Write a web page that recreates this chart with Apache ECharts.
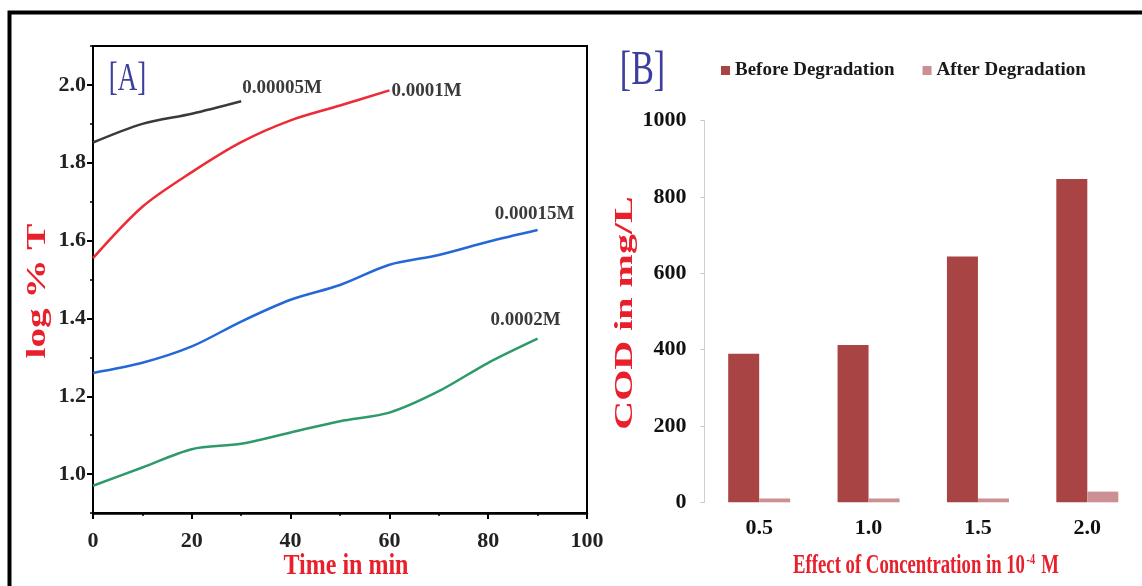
<!DOCTYPE html>
<html>
<head>
<meta charset="utf-8">
<script src="https://cdn.jsdelivr.net/npm/echarts@6/dist/echarts.min.js"></script>
<style>
html,body{margin:0;padding:0;background:#fff;}
#chart{width:1142px;height:586px;}
</style>
</head>
<body>
<div id="chart"></div>
<script>
// ---- Panel A data ----
const timesA = [0, 10, 20, 30, 40, 50, 60, 70, 80, 90];
const conc05 = [1.852, 1.900, 1.926, 1.958];                       // 0.00005M (0-30 min)
const conc10 = [1.555, 1.687, 1.776, 1.853, 1.909, 1.947, 1.986];  // 0.0001M (0-60 min)
const conc15 = [1.260, 1.286, 1.328, 1.392, 1.448, 1.486, 1.538, 1.563, 1.597, 1.627]; // 0.00015M
const conc20 = [0.970, 1.017, 1.064, 1.078, 1.107, 1.136, 1.158, 1.213, 1.286, 1.348]; // 0.0002M
const seriesNamesA = ['0.00005M', '0.0001M', '0.00015M', '0.0002M'];
const yTicksA = [1.0, 1.2, 1.4, 1.6, 1.8, 2.0];

// ---- Panel B data ----
const categoriesB = ['0.5', '1.0', '1.5', '2.0'];
const beforeDeg = [389, 412, 644, 847];
const afterDeg = [10, 10, 10, 28];
const legendB = ['Before Degradation', 'After Degradation'];

const SERIF = 'Liberation Serif';
const TITLE_RED = '#e8202c';

function lineData(values, labelCfg) {
  return values.map((v, i) => {
    const item = { value: [timesA[i], v] };
    if (i === values.length - 1) item.label = Object.assign({ show: true }, labelCfg);
    return item;
  });
}
const lblStyle = { fontFamily: SERIF, fontWeight: 'bold', fontSize: 19, color: '#3a3a3a' };

function textAt(x, y, text, style, tf) {
  return {
    type: 'group', x: x, y: y, silent: true,
    children: [Object.assign({
      type: 'text', x: 0, y: 0,
      style: Object.assign({ text: text, fontFamily: SERIF, align: 'center', verticalAlign: 'middle' }, style)
    }, tf || {})]
  };
}

const chart = echarts.init(document.getElementById('chart'), null, { renderer: 'canvas' });

const option = {
  backgroundColor: '#fff',
  animation: false,
  grid: [
    { left: 93, right: 555, top: 46, bottom: 73, show: true, borderColor: '#000', borderWidth: 2, backgroundColor: 'transparent' },
    { left: 704.5, right: -5, top: 120.7, bottom: 83.7 }
  ],
  legend: {
    data: legendB,
    left: 716, top: 56,
    itemWidth: 9, itemHeight: 9, itemGap: 28,
    icon: 'rect',
    textStyle: { fontFamily: SERIF, fontWeight: 'bold', fontSize: 19, color: '#1a1a1a' }
  },
  xAxis: [
    {
      gridIndex: 0, type: 'value', min: 0, max: 100, interval: 20,
      axisLine: { lineStyle: { color: '#000', width: 2.5 } },
      axisTick: { inside: false, length: 6, lineStyle: { color: '#000', width: 2 } },
      minorTick: { show: true, splitNumber: 2, length: 3, lineStyle: { color: '#000', width: 1.5 } },
      splitLine: { show: false },
      axisLabel: { fontFamily: SERIF, fontWeight: 'bold', fontSize: 22, color: '#222', margin: 17 }
    },
    {
      gridIndex: 1, type: 'category', data: categoriesB,
      axisLine: { show: false }, axisTick: { show: false },
      axisLabel: { fontFamily: SERIF, fontWeight: 'bold', fontSize: 22, color: '#111', margin: 15 }
    }
  ],
  yAxis: [
    {
      gridIndex: 0, type: 'value', min: 0.9, max: 2.1,
      axisLine: { lineStyle: { color: '#000', width: 2 } },
      axisTick: { length: 6, customValues: yTicksA, lineStyle: { color: '#000', width: 2 } },
      splitLine: { show: false },
      axisLabel: { customValues: yTicksA, formatter: v => v.toFixed(1), fontFamily: SERIF, fontWeight: 'bold', fontSize: 22, color: '#222', margin: 7 }
    },
    {
      gridIndex: 0, type: 'value', min: 0.9, max: 2.1, interval: 0.1, position: 'left',
      axisLine: { show: false },
      axisTick: { length: 3, lineStyle: { color: '#000', width: 1.5 } },
      axisLabel: { show: false }, splitLine: { show: false }
    },
    {
      gridIndex: 1, type: 'value', min: 0, max: 1000, interval: 200,
      axisLine: { show: true, lineStyle: { color: '#cfcfcf', width: 1 } },
      axisTick: { show: true, length: 4, lineStyle: { color: '#c4c4c4' } },
      splitLine: { show: false },
      axisLabel: { formatter: v => String(v), fontFamily: SERIF, fontWeight: 'bold', fontSize: 22, color: '#111', margin: 18 }
    }
  ],
  series: [
    {
      name: seriesNamesA[0], type: 'line', xAxisIndex: 0, yAxisIndex: 0,
      data: lineData(conc05, Object.assign({ formatter: seriesNamesA[0], position: 'right', distance: 1, offset: [0, -13] }, lblStyle)),
      symbol: 'circle', symbolSize: 0, showSymbol: true, smooth: 0.3,
      lineStyle: { color: '#3a3a3a', width: 2.5 }, itemStyle: { color: '#3a3a3a' }
    },
    {
      name: seriesNamesA[1], type: 'line', xAxisIndex: 0, yAxisIndex: 0,
      data: lineData(conc10, Object.assign({ formatter: seriesNamesA[1], position: 'right', distance: 2, offset: [0, 1] }, lblStyle)),
      symbol: 'circle', symbolSize: 0, showSymbol: true, smooth: 0.3,
      lineStyle: { color: '#ee2a36', width: 2.5 }, itemStyle: { color: '#ee2a36' }
    },
    {
      name: seriesNamesA[2], type: 'line', xAxisIndex: 0, yAxisIndex: 0,
      data: lineData(conc15, Object.assign({ formatter: seriesNamesA[2], position: 'top', distance: 6, offset: [-3, 0] }, lblStyle)),
      symbol: 'circle', symbolSize: 0, showSymbol: true, smooth: 0.3,
      lineStyle: { color: '#2468d8', width: 2.5 }, itemStyle: { color: '#2468d8' }
    },
    {
      name: seriesNamesA[3], type: 'line', xAxisIndex: 0, yAxisIndex: 0,
      data: lineData(conc20, Object.assign({ formatter: seriesNamesA[3], position: 'top', distance: 9, offset: [-12, 0] }, lblStyle)),
      symbol: 'circle', symbolSize: 0, showSymbol: true, smooth: 0.3,
      lineStyle: { color: '#2e9a6a', width: 2.5 }, itemStyle: { color: '#2e9a6a' }
    },
    {
      name: legendB[0], type: 'bar', xAxisIndex: 1, yAxisIndex: 2,
      data: beforeDeg, barWidth: 31, barGap: '0%',
      itemStyle: { color: '#a94444' }
    },
    {
      name: legendB[1], type: 'bar', xAxisIndex: 1, yAxisIndex: 2,
      data: afterDeg, barWidth: 31, barGap: '0%',
      itemStyle: { color: '#cc8f93' }
    }
  ],
  graphic: [
    { type: 'rect', left: 7, top: 10, shape: { width: 1300, height: 700 }, style: { fill: 'none', stroke: '#000', lineWidth: 4 }, silent: true, z: 100 },
    textAt(127.5, 80, '[A]', { fontSize: 27, fill: '#3c3f9c' }, { scaleY: 1.45 }),
    textAt(642.5, 71, '[B]', { fontSize: 34, fill: '#3c3f9c' }, { scaleY: 1.45 }),
    textAt(38, 291, 'log % T', { fontWeight: 'bold', fontSize: 27, fill: TITLE_RED }, { rotation: Math.PI / 2, scaleX: 1.45 }),
    textAt(346, 566, 'Time in min', { fontWeight: 'bold', fontSize: 24, fill: TITLE_RED }, { scaleY: 1.25 }),
    textAt(626, 313, 'COD in mg/L', { fontWeight: 'bold', fontSize: 25, fill: TITLE_RED }, { rotation: Math.PI / 2, scaleX: 1.6 }),
    textAt(926, 566, 'Effect of Concentration in 10{sup|-4} M', {
      fontWeight: 'bold', fontSize: 24, fill: TITLE_RED,
      rich: { sup: { fontFamily: SERIF, fontWeight: 'bold', fontSize: 13, fill: TITLE_RED, padding: [0, 2, 10, 2] } }
    }, { scaleX: 0.78, scaleY: 1.15 })
  ]
};
chart.setOption(option);
</script>
</body>
</html>
